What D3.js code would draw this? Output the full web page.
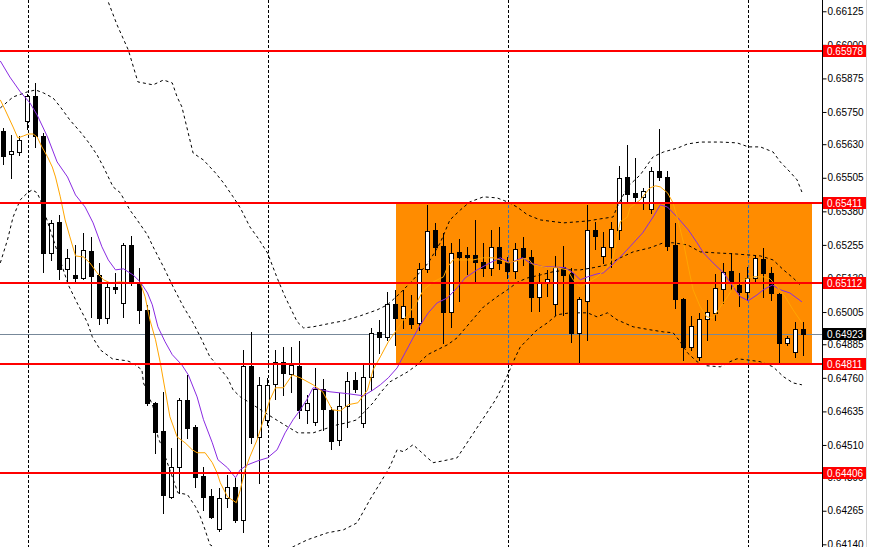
<!DOCTYPE html>
<html><head><meta charset="utf-8">
<script src="https://cdn.jsdelivr.net/npm/d3@7"></script>
<style>
body{margin:0;background:#fff}
svg{display:block}
text{font-family:"Liberation Sans",Arial,sans-serif;font-size:10px}
</style>
</head><body>
<svg id="c" width="869" height="547"></svg>
<script>
// ---- data (prices) ----
const opens=[0.65679,0.65594,0.65601,0.65717,0.65810,0.65661,0.65225,0.65341,0.65166,0.65143,
0.65132,0.65233,0.65143,0.64983,0.65099,0.65039,0.65255,0.65114,0.65013,0.64667,
0.64563,0.64317,0.64429,0.64678,0.64578,0.64395,0.64321,0.64198,0.64313,0.64354,
0.64232,0.64805,0.64540,0.64604,0.64738,0.64820,0.64775,0.64805,0.64641,0.64596,
0.64719,0.64641,0.64529,0.64656,0.64753,0.64593,0.64764,0.64931,0.64913,0.65036,
0.64983,0.64983,0.64965,0.65166,0.65311,0.65251,0.65006,0.65229,0.65218,0.65218,
0.65192,0.65170,0.65248,0.65192,0.65158,0.65244,0.65210,0.65062,0.65117,0.65036,
0.65173,0.65151,0.64928,0.65047,0.65311,0.65214,0.65248,0.65311,0.65508,0.65449,
0.65434,0.65389,0.65531,0.65508,0.65255,0.65054,0.64875,0.64838,0.64980,0.65002,
0.65091,0.65158,0.65106,0.65080,0.65132,0.65203,0.65151,0.65073,0.64890,0.64857,0.64942];
const highs=[0.65691,0.65665,0.65661,0.65817,0.65858,0.65672,0.65348,0.65367,0.65240,0.65255,
0.65300,0.65285,0.65188,0.65114,0.65151,0.65263,0.65289,0.65170,0.65032,0.64671,
0.64708,0.64500,0.64686,0.64771,0.64585,0.64429,0.64347,0.64351,0.64399,0.64388,
0.64864,0.64931,0.64764,0.64760,0.64864,0.64875,0.64875,0.64898,0.64697,0.64797,
0.64756,0.64652,0.64704,0.64782,0.64782,0.64808,0.64946,0.64976,0.65080,0.65088,
0.65088,0.65069,0.65188,0.65404,0.65337,0.65300,0.65263,0.65277,0.65248,0.65348,
0.65263,0.65311,0.65322,0.65210,0.65263,0.65285,0.65236,0.65151,0.65162,0.65214,
0.65251,0.65170,0.65062,0.65404,0.65341,0.65303,0.65341,0.65549,0.65627,0.65579,
0.65467,0.65545,0.65687,0.65531,0.65337,0.65058,0.64991,0.65002,0.65050,0.65147,
0.65188,0.65225,0.65151,0.65173,0.65218,0.65244,0.65173,0.65076,0.64916,0.64969,0.64969];
const lows=[0.65557,0.65504,0.65590,0.65687,0.65620,0.65155,0.65199,0.65129,0.65114,0.65114,
0.65129,0.64987,0.64961,0.64965,0.65076,0.64987,0.65106,0.64965,0.64660,0.64481,
0.64258,0.64313,0.64332,0.64537,0.64354,0.64269,0.64239,0.64191,0.64280,0.64224,
0.64187,0.64518,0.64369,0.64585,0.64682,0.64697,0.64708,0.64611,0.64593,0.64585,
0.64567,0.64496,0.64511,0.64578,0.64708,0.64578,0.64715,0.64853,0.64902,0.64883,
0.64946,0.64946,0.64939,0.65155,0.65218,0.64890,0.64950,0.65047,0.65147,0.65117,
0.65140,0.65143,0.65166,0.65132,0.65132,0.65181,0.65009,0.65009,0.65065,0.64995,
0.64995,0.64894,0.64816,0.64902,0.65240,0.65188,0.65173,0.65277,0.65415,0.65415,
0.65389,0.65374,0.65497,0.65236,0.65021,0.64827,0.64864,0.64827,0.64902,0.64976,
0.65039,0.65088,0.65028,0.65050,0.65114,0.65062,0.65050,0.64816,0.64883,0.64838,0.64846];
const closes=[0.65586,0.65605,0.65646,0.65810,0.65661,0.65225,0.65337,0.65166,0.65207,0.65132,
0.65236,0.65140,0.64983,0.65099,0.65091,0.65255,0.65114,0.65013,0.64667,0.64559,
0.64325,0.64429,0.64678,0.64574,0.64392,0.64317,0.64243,0.64313,0.64354,0.64232,
0.64805,0.64540,0.64734,0.64734,0.64820,0.64779,0.64808,0.64641,0.64667,0.64719,
0.64645,0.64526,0.64656,0.64749,0.64719,0.64764,0.64928,0.64913,0.65036,0.64983,
0.65028,0.64961,0.65166,0.65307,0.65248,0.65006,0.65225,0.65210,0.65210,0.65192,
0.65170,0.65248,0.65188,0.65158,0.65240,0.65210,0.65062,0.65117,0.65129,0.65173,
0.65143,0.64928,0.65054,0.65311,0.65289,0.65248,0.65315,0.65504,0.65445,0.65434,
0.65456,0.65531,0.65508,0.65251,0.65054,0.64875,0.64954,0.64980,0.65006,0.65095,
0.65155,0.65114,0.65080,0.65132,0.65207,0.65151,0.65076,0.64890,0.64909,0.64942,0.64923];

// indicator lines: [bar position, price]
const upperBand=[[12.0,0.66241],[13.0,0.66167],[14.2,0.66074],[15.6,0.65981],[16.8,0.65862],[18.7,0.65851],[20.0,0.65869],[21.1,0.65858],[21.7,0.65806],[22.3,0.65769],[23.7,0.65597],[25.0,0.65571],[26.5,0.65523],[27.5,0.65486],[28.7,0.65434],[29.6,0.65393],[30.8,0.65322],[31.8,0.65281],[33.0,0.65225],[34.3,0.65125],[35.2,0.65062],[36.7,0.64969],[37.5,0.64946],[38.7,0.64950],[41.2,0.64965],[42.5,0.64972],[44.6,0.64991],[46.7,0.65013],[48.0,0.65032],[49.6,0.65076],[51.2,0.65125],[53.1,0.65188],[54.6,0.65263],[55.8,0.65348],[57.1,0.65385],[58.3,0.65415],[60.0,0.65434],[61.7,0.65430],[63.0,0.65415],[64.2,0.65396],[65.5,0.65367],[67.1,0.65348],[70.0,0.65337],[73.0,0.65344],[74.6,0.65352],[76.2,0.65359],[76.7,0.65396],[78.0,0.65471],[79.6,0.65516],[81.2,0.65583],[82.5,0.65601],[84.3,0.65616],[85.5,0.65631],[87.1,0.65638],[89.6,0.65638],[91.7,0.65635],[93.1,0.65620],[94.6,0.65620],[96.2,0.65601],[97.1,0.65564],[98.3,0.65527],[99.2,0.65497],[99.8,0.65452]];
const middleBand=[[-0.4,0.65765],[1.2,0.65806],[3.0,0.65825],[4.0,0.65832],[5.0,0.65821],[6.2,0.65802],[7.1,0.65769],[8.3,0.65720],[9.6,0.65676],[10.6,0.65638],[11.7,0.65590],[12.5,0.65545],[13.7,0.65471],[14.6,0.65449],[15.8,0.65385],[16.7,0.65348],[18.0,0.65292],[18.7,0.65248],[20.0,0.65173],[21.2,0.65099],[22.5,0.65024],[23.7,0.64965],[24.6,0.64913],[25.8,0.64838],[26.7,0.64808],[28.0,0.64760],[28.7,0.64715],[29.6,0.64689],[30.8,0.64667],[32.5,0.64634],[33.7,0.64611],[35.5,0.64578],[36.8,0.64555],[38.7,0.64555],[40.2,0.64570],[41.7,0.64585],[43.0,0.64593],[44.2,0.64604],[45.0,0.64630],[46.2,0.64667],[47.1,0.64704],[48.3,0.64745],[49.2,0.64760],[50.5,0.64782],[51.7,0.64808],[53.0,0.64846],[54.2,0.64864],[55.5,0.64883],[56.7,0.64909],[58.3,0.64965],[60.0,0.65024],[61.7,0.65062],[63.0,0.65088],[64.3,0.65117],[65.5,0.65132],[67.1,0.65143],[68.7,0.65155],[70.5,0.65162],[72.1,0.65162],[73.7,0.65170],[75.5,0.65181],[77.1,0.65207],[78.7,0.65229],[80.8,0.65244],[82.5,0.65263],[83.7,0.65263],[85.5,0.65255],[87.1,0.65229],[89.2,0.65225],[91.2,0.65222],[92.9,0.65218],[94.6,0.65214],[96.2,0.65199],[97.5,0.65162],[98.7,0.65132],[99.6,0.65106]];
const lowerBand=[[-0.4,0.65188],[0.5,0.65274],[1.2,0.65359],[2.1,0.65423],[3.0,0.65449],[3.6,0.65460],[4.2,0.65449],[4.6,0.65423],[8.1,0.65106],[9.2,0.65039],[10.5,0.64965],[11.1,0.64913],[12.1,0.64864],[13.6,0.64831],[15.5,0.64823],[16.1,0.64816],[17.3,0.64790],[17.5,0.64741],[18.7,0.64652],[19.3,0.64540],[19.6,0.64518],[21.8,0.64332],[23.0,0.64325],[24.0,0.64280],[24.6,0.64243],[25.2,0.64194],[25.8,0.64139],[30.8,0.64045],[36.2,0.64131],[38.0,0.64157],[40.5,0.64183],[42.5,0.64194],[44.2,0.64220],[45.8,0.64306],[47.1,0.64369],[48.3,0.64429],[49.2,0.64492],[50.0,0.64485],[51.2,0.64511],[53.0,0.64462],[53.7,0.64444],[55.0,0.64451],[56.7,0.64462],[61.5,0.64678],[62.3,0.64723],[63.3,0.64790],[64.0,0.64838],[64.6,0.64875],[65.5,0.64902],[66.7,0.64939],[68.0,0.64965],[69.2,0.64995],[70.8,0.65002],[73.0,0.65002],[74.2,0.64987],[75.5,0.65002],[76.7,0.64976],[78.7,0.64950],[80.8,0.64939],[82.5,0.64931],[83.7,0.64928],[84.6,0.64894],[85.5,0.64853],[86.7,0.64820],[87.9,0.64805],[89.6,0.64801],[90.8,0.64820],[91.7,0.64831],[92.9,0.64827],[94.6,0.64820],[96.2,0.64801],[97.5,0.64764],[98.7,0.64741],[99.8,0.64734]];
const fastMA=[[-0.4,0.65795],[0.2,0.65758],[1.2,0.65694],[1.8,0.65653],[2.5,0.65661],[3.1,0.65668],[3.7,0.65668],[4.2,0.65657],[4.8,0.65620],[5.5,0.65583],[6.1,0.65545],[6.5,0.65508],[7.1,0.65434],[7.7,0.65348],[8.3,0.65285],[9.0,0.65214],[10.0,0.65210],[10.8,0.65188],[11.7,0.65151],[12.5,0.65125],[13.3,0.65114],[14.6,0.65117],[15.8,0.65114],[17.1,0.65114],[17.7,0.65062],[18.3,0.64976],[19.0,0.64902],[19.6,0.64816],[20.2,0.64715],[20.8,0.64615],[21.7,0.64540],[22.7,0.64518],[23.6,0.64492],[24.2,0.64481],[25.2,0.64481],[26.1,0.64444],[26.7,0.64406],[27.1,0.64369],[28.0,0.64317],[29.1,0.64295],[29.6,0.64343],[30.2,0.64418],[30.8,0.64466],[31.7,0.64529],[32.5,0.64604],[33.3,0.64678],[34.0,0.64723],[35.0,0.64723],[36.1,0.64771],[37.1,0.64760],[38.7,0.64734],[39.9,0.64708],[41.1,0.64641],[42.1,0.64637],[43.1,0.64660],[44.3,0.64667],[45.5,0.64715],[46.2,0.64790],[47.1,0.64838],[48.1,0.64894],[48.9,0.64928],[50.0,0.64976],[50.8,0.65006],[51.7,0.65043],[52.5,0.65088],[53.7,0.65117],[55.0,0.65136],[55.5,0.65173],[56.2,0.65199],[57.1,0.65199],[58.7,0.65199],[60.0,0.65207],[61.2,0.65207],[62.1,0.65199],[63.1,0.65188],[64.6,0.65199],[65.5,0.65207],[66.2,0.65181],[68.0,0.65170],[69.2,0.65170],[70.5,0.65162],[71.2,0.65125],[72.1,0.65099],[73.0,0.65114],[74.2,0.65136],[75.5,0.65173],[76.2,0.65210],[77.1,0.65341],[78.0,0.65359],[78.3,0.65393],[79.6,0.65423],[80.8,0.65467],[81.5,0.65475],[82.1,0.65471],[83.0,0.65449],[83.7,0.65411],[84.3,0.65348],[85.0,0.65263],[85.6,0.65173],[86.2,0.65088],[87.1,0.65024],[87.9,0.64987],[88.7,0.64983],[89.6,0.65024],[90.5,0.65062],[91.2,0.65095],[92.5,0.65125],[93.7,0.65136],[95.0,0.65136],[95.8,0.65129],[96.7,0.65099],[97.7,0.65062],[98.7,0.65013],[99.8,0.64965]];
const slowMA=[[-0.4,0.65940],[0.8,0.65880],[2.1,0.65825],[3.3,0.65784],[4.2,0.65739],[5.5,0.65657],[6.7,0.65564],[8.0,0.65508],[9.0,0.65441],[10.2,0.65396],[11.2,0.65337],[12.3,0.65248],[13.1,0.65199],[14.0,0.65162],[15.0,0.65166],[16.2,0.65143],[17.1,0.65117],[18.0,0.65076],[18.6,0.65032],[19.3,0.64950],[20.2,0.64894],[21.1,0.64846],[22.3,0.64808],[23.1,0.64771],[24.2,0.64689],[25.0,0.64604],[26.1,0.64518],[26.8,0.64455],[28.0,0.64425],[29.0,0.64388],[29.6,0.64418],[30.5,0.64436],[31.8,0.64451],[33.0,0.64462],[34.2,0.64492],[35.2,0.64555],[36.2,0.64604],[37.1,0.64641],[37.9,0.64678],[38.7,0.64723],[39.8,0.64715],[40.8,0.64708],[43.0,0.64701],[45.0,0.64693],[46.2,0.64715],[47.1,0.64734],[48.1,0.64760],[49.2,0.64797],[50.2,0.64853],[51.2,0.64909],[52.1,0.64957],[53.1,0.65002],[54.2,0.65039],[55.5,0.65058],[56.7,0.65095],[57.7,0.65132],[59.2,0.65162],[60.8,0.65188],[62.1,0.65207],[63.3,0.65188],[64.9,0.65207],[65.8,0.65188],[67.5,0.65173],[68.7,0.65173],[70.2,0.65170],[71.2,0.65151],[72.1,0.65125],[73.0,0.65136],[74.2,0.65147],[75.0,0.65151],[76.1,0.65181],[77.1,0.65210],[78.3,0.65248],[79.9,0.65300],[81.2,0.65359],[82.1,0.65404],[83.0,0.65396],[84.2,0.65359],[85.6,0.65311],[86.7,0.65263],[87.5,0.65225],[88.7,0.65188],[90.0,0.65151],[91.2,0.65099],[92.1,0.65062],[93.1,0.65047],[94.2,0.65069],[95.0,0.65088],[96.1,0.65106],[97.1,0.65088],[98.3,0.65076],[99.8,0.65043]];

const levels=[0.65978,0.65411,0.65112,0.64811,0.64406];
const bidPrice=0.64923;
const tickValues=[0.66125,0.66000,0.65875,0.65750,0.65630,0.65505,0.65380,0.65255,0.65130,0.65005,0.64885,0.64760,0.64635,0.64510,0.64390,0.64265,0.64140];
const gridBars=[3,33,63,93];
const boxBars=[49,101];
const boxPrices=[0.65411,0.64811];

// ---- drawing ----
const W=869,H=547,plotRight=822;
const svg=d3.select("#c");
const x=d3.scaleLinear().domain([0,100]).range([3.5,803.5]);
const y=d3.scaleLinear().domain([0.64130,0.66167]).range([H,0]);
const line=d3.line().x(d=>x(d[0])).y(d=>y(d[1]));
const px=v=>Math.round(v)+0.5;

svg.append("rect").attr("width",W).attr("height",H).attr("fill","#fff");
const defs=svg.append("defs");
defs.append("clipPath").attr("id","plot").append("rect").attr("width",plotRight).attr("height",H);
defs.append("clipPath").attr("id","boxclip").append("rect")
  .attr("x",x(boxBars[0])).attr("y",y(boxPrices[0]))
  .attr("width",x(boxBars[1])-x(boxBars[0])).attr("height",y(boxPrices[1])-y(boxPrices[0]));

const g=svg.append("g").attr("clip-path","url(#plot)");

// vertical grid
g.selectAll(".vg").data(gridBars).join("line").attr("class","vg")
  .attr("x1",d=>Math.round(x(d))+0.5).attr("x2",d=>Math.round(x(d))+0.5)
  .attr("y1",0).attr("y2",H).attr("stroke","#000").attr("stroke-width",1).attr("stroke-dasharray","3,2");

// orange box
g.append("rect")
  .attr("x",Math.round(x(boxBars[0]))).attr("y",Math.round(y(boxPrices[0])))
  .attr("width",Math.round(x(boxBars[1]))-Math.round(x(boxBars[0])))
  .attr("height",Math.round(y(boxPrices[1]))-Math.round(y(boxPrices[0])))
  .attr("fill","#ff8c00");
g.append("g").attr("clip-path","url(#boxclip)").selectAll("line").data(gridBars).join("line")
  .attr("x1",d=>Math.round(x(d))+0.5).attr("x2",d=>Math.round(x(d))+0.5)
  .attr("y1",0).attr("y2",H).attr("stroke","#3f6fb0").attr("stroke-width",1).attr("stroke-dasharray","3,2");

// bid line
g.append("line").attr("x1",0).attr("x2",plotRight).attr("y1",px(y(bidPrice))).attr("y2",px(y(bidPrice)))
  .attr("stroke","#778899").attr("stroke-width",1);

// candles
const idx=d3.range(opens.length);
const cg=g.append("g");
cg.selectAll(".wick").data(idx).join("line")
  .attr("x1",i=>x(i)).attr("x2",i=>x(i))
  .attr("y1",i=>Math.round(y(highs[i]))).attr("y2",i=>Math.round(y(lows[i]))+1)
  .attr("stroke","#000").attr("stroke-width",1);
cg.selectAll(".body").data(idx).join("rect")
  .attr("x",i=>x(i)-2).attr("width",4)
  .attr("y",i=>Math.round(Math.min(y(opens[i]),y(closes[i])))+0.5)
  .attr("height",i=>Math.max(0,Math.round(Math.abs(y(opens[i])-y(closes[i])))))
  .attr("fill",i=>closes[i]>=opens[i]?"#fff":"#000")
  .attr("stroke","#000").attr("stroke-width",1);

// bands
[upperBand,middleBand,lowerBand].forEach(b=>{
  g.append("path").attr("d",line(b)).attr("fill","none").attr("stroke","#000")
   .attr("stroke-width",1).attr("stroke-dasharray","3,3");
});
// moving averages
g.append("path").attr("d",line(slowMA)).attr("fill","none").attr("stroke","#8a2be2").attr("stroke-width",1);
g.append("path").attr("d",line(fastMA)).attr("fill","none").attr("stroke","#ffa500").attr("stroke-width",1);

// red levels
g.selectAll(".lvl").data(levels).join("line")
  .attr("x1",0).attr("x2",plotRight).attr("y1",d=>Math.round(y(d))).attr("y2",d=>Math.round(y(d)))
  .attr("stroke","#ff0000").attr("stroke-width",2);

// price axis
const ax=svg.append("g").attr("transform",`translate(${plotRight+0.5},0)`)
  .call(d3.axisRight(y).tickValues(tickValues).tickSize(4).tickPadding(1).tickFormat(d3.format(".5f")));
ax.select(".domain").remove();
ax.selectAll(".tick line").attr("stroke","#000");
ax.selectAll(".tick text").attr("fill","#000").style("font-size","10px")
  .style("font-family","'Liberation Sans',Arial,sans-serif");
svg.append("line").attr("x1",plotRight+0.5).attr("x2",plotRight+0.5).attr("y1",0).attr("y2",H).attr("stroke","#000");
svg.append("line").attr("x1",866.5).attr("x2",866.5).attr("y1",0).attr("y2",H).attr("stroke","#d4d4d4");

// level labels
const lab=svg.append("g");
levels.forEach(v=>{
  const yy=Math.round(y(v));
  lab.append("rect").attr("x",823).attr("y",yy-6).attr("width",43).attr("height",12).attr("fill","#ff0000");
  lab.append("text").attr("x",827).attr("y",yy).attr("dy","0.35em").attr("fill","#fff").text(d3.format(".5f")(v));
});
{
  const yy=Math.round(y(bidPrice));
  lab.append("rect").attr("x",823).attr("y",yy-6).attr("width",43).attr("height",12).attr("fill","#000");
  lab.append("text").attr("x",827).attr("y",yy).attr("dy","0.35em").attr("fill","#fff").text(d3.format(".5f")(bidPrice));
}
</script>
</body></html>
